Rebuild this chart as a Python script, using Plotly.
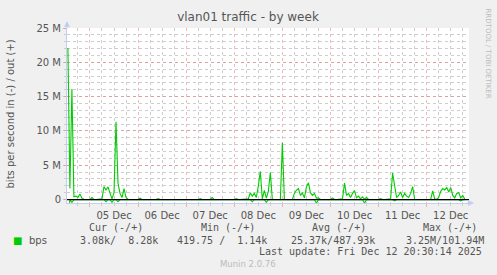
import pandas as pd
import plotly.graph_objects as go

# ---- data (values in M bit/s, hourly from 2025-12-04 13:00) ----
start_time = "2025-12-04 13:00"
out_mbps = [
    22.1, 1.6, 16.1, 0.4, 0.5, 0.3, 0.8, 0.2, 0.05, 0.02,
    0.02, 0.02, 0.3, 0.02, 0.02, 0.02, 0.02, 0.1, 1.9, 1.4,
    1.85, 1.0, 0.1, 1.0, 11.35, 2.4, 0.9, 0.3, 1.6, 0.3,
    0.05, 0.02, 0.02, 0.02, 0.02, 0.02, 0.2, 0.02, 0.02, 0.02,
    0.02, 0.02, 0.02, 0.02, 0.02, 0.15, 0.02, 0.02, 0.02, 0.02,
    0.02, 0.02, 0.02, 0.02, 0.02, 0.02, 0.02, 0.02, 0.02, 0.02,
    0.02, 0.02, 0.02, 0.02, 0.02, 0.02, 0.15, 0.02, 0.02, 0.02,
    0.02, 0.02, 0.3, 0.02, 0.02, 0.02, 0.02, 0.02, 0.02, 0.02,
    0.02, 0.02, 0.02, 0.02, 0.15, 0.02, 0.02, 0.02, 0.02, 0.02,
    0.1, 1.0, 0.5, 0.9, 0.3, 1.95, 4.1, 0.1, 1.35, 0.2,
    1.2, 3.95, 0.02, 0.02, 0.02, 0.02, 0.02, 8.27, 0.02, 0.02,
    0.02, 0.02, 0.02, 0.9, 1.35, 1.6, 0.6, 0.95, 0.25, 1.85,
    2.45, 1.0, 0.6, 0.9, 0.2, 0.25, 0.02, 0.02, 0.02, 0.02,
    0.02, 0.02, 0.25, 0.02, 0.02, 0.02, 0.02, 0.1, 2.4, 0.6,
    0.9, 0.3, 0.9, 1.3, 0.25, 0.5, 0.1, 0.4, 0.05, 0.3,
    0.02, 0.02, 0.02, 0.02, 0.02, 0.02, 0.15, 0.02, 0.02, 0.02,
    0.02, 0.1, 3.85, 1.75, 0.3, 0.6, 1.1, 0.3, 0.9, 0.5,
    0.3, 0.9, 1.9, 0.05, 0.02, 0.02, 0.02, 0.02, 0.02, 0.02,
    0.02, 0.02, 1.25, 0.1, 0.02, 0.3, 1.2, 1.6, 1.4, 1.75,
    1.1, 1.75, 0.6, 0.25, 0.9, 1.0, 0.25, 0.6, 0.05,
]
in_mbps = [0.02] * len(out_mbps)
for i, v in {0: 3.25, 2: 0.4, 19: 0.3, 22: 0.4, 25: 0.3, 92: 0.3, 99: 0.4,
             124: 0.5, 148: 0.5, 163: 0.2, 196: 0.2}.items():
    in_mbps[i] = v

y_tick_vals = [0, 5, 10, 15, 20, 25]
y_tick_text = ["0", "5 M", "10 M", "15 M", "20 M", "25 M"]
x_range = ["2025-12-04 12:33", "2025-12-12 21:07"]

legend_head = ["Cur (-/+)", "Min (-/+)", "Avg (-/+)", "Max (-/+)"]
legend_vals = ["3.08k/  8.28k", "419.75 /  1.14k", "25.37k/487.93k", "3.25M/101.94M"]
last_update = "Last update: Fri Dec 12 20:30:14 2025"

# ---- layout geometry ----
W, H = 497, 275
PL, PR, PT, PB = 67, 469, 28, 203


def px(x):
    return (x - PL) / (PR - PL)


def py(y):
    return (PB - y) / (PB - PT)


times = pd.date_range(start_time, periods=len(out_mbps), freq="h")
green = "#00cc00"
txt = "#555555"
mono = "DejaVu Sans Mono"
sans = "DejaVu Sans"

fig = go.Figure()
fig.add_trace(go.Scatter(x=times, y=[-v * 1e6 for v in in_mbps], mode="lines",
                         line=dict(color=green, width=1.1), hoverinfo="skip"))
fig.add_trace(go.Scatter(x=times, y=[v * 1e6 for v in out_mbps], mode="lines",
                         line=dict(color=green, width=1.1), hoverinfo="skip"))

fig.add_shape(type="line", xref="paper", x0=0, x1=1, yref="y", y0=0, y1=0,
              line=dict(color="black", width=1.2), layer="above")

axis_col = "#c5cdf5"
red_grid = "rgba(225,130,130,0.55)"
gray_grid = "rgb(205,205,205)"

ann = []
for i, h in enumerate(legend_head):
    cx = [116.3, 227.5, 338.8, 450][i]
    ann.append(dict(x=px(cx), y=py(227.7), text=h, xanchor="center", yanchor="middle",
                    font=dict(family=mono, size=10, color=txt)))
for i, v in enumerate(legend_vals):
    lx = [78, 175, 289, 404][i]
    ann.append(dict(x=px(lx), y=py(240), text=v.replace(" ", "&nbsp;"), xanchor="left",
                    yanchor="middle", font=dict(family=mono, size=10, color=txt)))
ann.append(dict(x=px(27), y=py(240), text="bps", xanchor="left", yanchor="middle",
                font=dict(family=sans, size=10, color=txt)))
ann.append(dict(x=px(17), y=py(240), text="■", xanchor="center", yanchor="middle",
                font=dict(family=sans, size=10, color=green)))
ann.append(dict(x=px(484), y=py(251.7), text=last_update.replace(" ", "&nbsp;"),
                xanchor="right", yanchor="middle", font=dict(family=mono, size=10, color=txt)))
ann.append(dict(x=px(248), y=py(264), text="Munin 2.0.76", xanchor="center", yanchor="middle",
                font=dict(family=sans, size=8.5, color="#bbbbbb")))
ann.append(dict(x=px(10), y=py(114.5), text="bits per second in (-) / out (+)", textangle=-90,
                xanchor="center", yanchor="middle", font=dict(family=sans, size=10, color=txt)))
ann.append(dict(x=px(487.5), y=py(53), text="RRDTOOL / TOBI OETIKER", textangle=90,
                xanchor="center", yanchor="middle", font=dict(family=sans, size=7, color="#bbbbbb")))
for a in ann:
    a.update(xref="paper", yref="paper", showarrow=False)

# axis arrows
ann.append(dict(xref="paper", yref="paper", x=px(67), y=py(21), ax=0, ay=9, text="",
                showarrow=True, arrowhead=2, arrowsize=1, arrowwidth=1.2, arrowcolor=axis_col))
ann.append(dict(xref="paper", yref="paper", x=px(474), y=0, ax=-9, ay=0, text="",
                showarrow=True, arrowhead=2, arrowsize=1, arrowwidth=1.2, arrowcolor=axis_col))

fig.update_layout(
    width=W, height=H,
    margin=dict(l=PL, r=W - PR, t=PT, b=H - PB),
    paper_bgcolor="#f0f0f0", plot_bgcolor="white",
    showlegend=False,
    title=dict(text="vlan01 traffic - by week", x=248 / W, xref="container",
               y=1 - 17 / H, yanchor="middle", xanchor="center",
               font=dict(family=sans, size=12, color=txt)),
    annotations=ann,
    xaxis=dict(
        type="date", range=x_range,
        tick0="2025-12-05", dtick=86400000, ticklabelmode="period", tickformat="%d %b",
        showgrid=True, gridcolor=red_grid, griddash="dot", gridwidth=1,
        ticks="outside", ticklen=3, tickcolor=red_grid,
        tickfont=dict(family=sans, size=10, color=txt),
        showline=True, linecolor=axis_col, linewidth=1, zeroline=False,
        minor=dict(dtick=6 * 3600000, tick0="2025-12-05", showgrid=True, gridcolor=gray_grid,
                   griddash="dot", ticks="outside", ticklen=2, tickcolor=gray_grid),
    ),
    yaxis=dict(
        range=[-0.5e6, 25e6],
        tickmode="array", tickvals=[v * 1e6 for v in y_tick_vals], ticktext=y_tick_text,
        showgrid=True, gridcolor=red_grid, griddash="dot", gridwidth=1,
        ticks="outside", ticklen=3, tickcolor=red_grid,
        tickfont=dict(family=sans, size=10, color=txt),
        showline=True, linecolor=axis_col, linewidth=1, zeroline=False,
        minor=dict(tick0=0, dtick=1e6, showgrid=True, gridcolor=gray_grid, griddash="dot",
                   ticks="outside", ticklen=2, tickcolor=gray_grid),
    ),
)

fig.write_html("out.html")
